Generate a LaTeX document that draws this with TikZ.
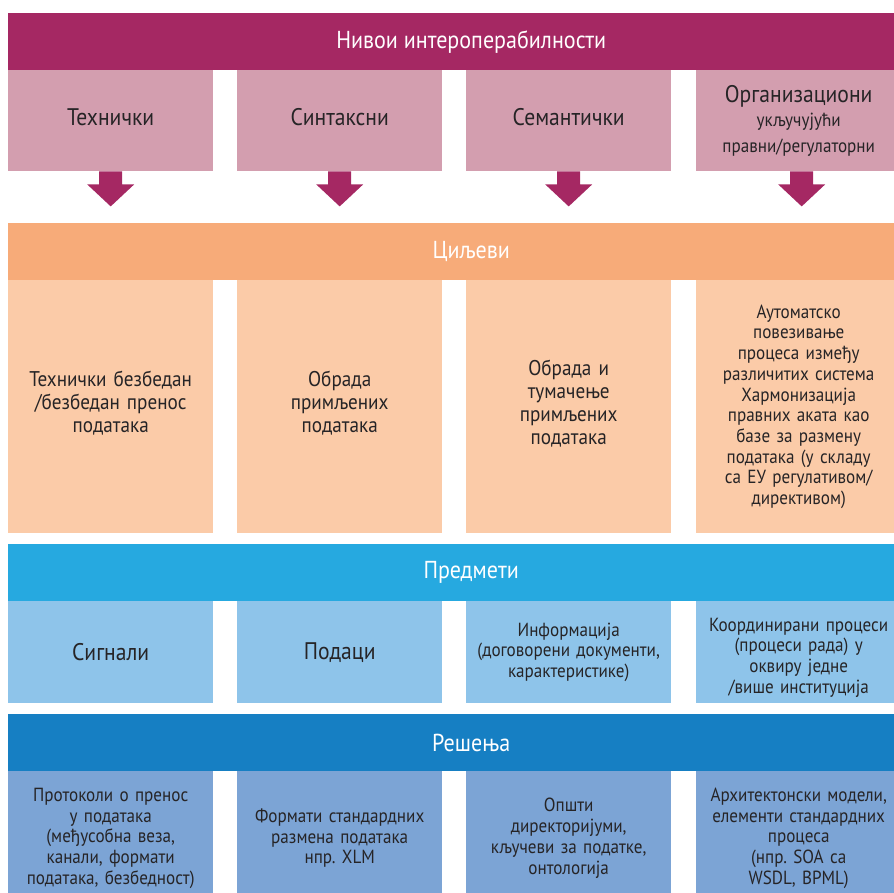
\documentclass[tikz,border=0pt]{standalone}
\usepackage{fontspec}
\setmainfont[FakeStretch=0.9]{PT Sans}
\usetikzlibrary{positioning,calc}
\definecolor{hdr}{RGB}{165,40,99}
\definecolor{lvl}{RGB}{211,158,175}
\definecolor{obnd}{RGB}{247,171,121}
\definecolor{obox}{RGB}{251,203,168}
\definecolor{bbnd}{RGB}{38,169,224}
\definecolor{bbox}{RGB}{142,196,234}
\definecolor{dbnd}{RGB}{22,127,195}
\definecolor{dbox}{RGB}{124,164,213}
\definecolor{txt}{RGB}{38,36,38}
\newcommand{\lowpad}[1]{\rule[-#1]{0pt}{0pt}}
\newcommand{\toppad}[1]{\rule{0pt}{#1}}
\tikzset{
  band/.style={anchor=north west, minimum width=926pt, inner sep=0pt, text=white,
    font=\fontsize{24.5}{26}\selectfont},
  cell/.style={anchor=north west, minimum width=205pt, inner sep=0pt, text=txt,
    align=center, text width=205pt},
  bigtxt/.style={font=\fontsize{24}{26}\selectfont},
  smalltxt/.style={font=\fontsize{19}{20.7}\selectfont},
  midtxt/.style={font=\fontsize{21.3}{23}\selectfont},
  blockarrow/.style={fill=hdr},
}
\begin{document}
\frenchspacing
\begin{tikzpicture}[x=1pt,y=1pt]
\useasboundingbox (0,0) rectangle (894,-893);
\clip (0,0) rectangle (894,-893);
% header band
\node[band, fill=hdr, minimum height=57pt] (hdr) at (8,-13) {Нивои интероперабилности};
% level boxes
\node[cell, bigtxt, fill=lvl, minimum height=101pt] (l1) at (8,-70) {Технички\lowpad{7pt}};
\node[cell, bigtxt, fill=lvl, minimum height=101pt] (l2) at (237,-70) {Синтаксни\lowpad{7pt}};
\node[cell, bigtxt, fill=lvl, minimum height=101pt] (l3) at (466,-70) {Семантички\lowpad{7pt}};
\node[cell, bigtxt, fill=lvl, minimum height=101pt] (l4) at (696,-70) {Организациони\\[-2pt]{\fontsize{19}{26}\selectfont укључујући\\правни/регулаторни}};
% arrows
\foreach \n/\dx in {l1/0,l2/0,l3/0,l4/3}{
  \fill[blockarrow] ($(\n.south)+(\dx,0)$) ++(-11.5,0) -- ++(0,-13) -- ++(-12,0) -- ++(23.5,-22) -- ++(23.5,22) -- ++(-12,0) -- ++(0,13) -- cycle;
}
% goals
\node[band, fill=obnd, minimum height=57pt] (goals) at (8,-223) {Циљеви};
\node[cell, midtxt, fill=obox, minimum height=253pt] (g1) at (8,-280) {Технички безбедан\\/безбедан пренос\\података\lowpad{9pt}};
\node[cell, midtxt, fill=obox, minimum height=253pt] (g2) at (237,-280) {Обрада\\примљених\\података\lowpad{9pt}};
\node[cell, midtxt, fill=obox, minimum height=253pt] (g3) at (466,-280) {Обрада и\\тумачење\\примљених\\података\lowpad{9pt}};
\node[cell, smalltxt, fill=obox, minimum height=253pt] (g4) at (696,-280) {Аутоматско\\повезивање\\процеса између\\различитих система\\Хармонизација\\правних аката као\\базе за размену\\података (у складу\\са ЕУ регулативом/\\директивом)};
% subjects
\node[band, fill=bbnd, minimum height=57pt] (subj) at (8,-544) {Предмети};
\node[cell, bigtxt, fill=bbox, minimum height=102pt] (s1) at (8,-601) {Сигнали};
\node[cell, bigtxt, fill=bbox, minimum height=102pt] (s2) at (237,-601) {Подаци};
\node[cell, smalltxt, fill=bbox, minimum height=102pt] (s3) at (466,-601) {Информација\\(договорени документи,\\карактеристике)};
\node[cell, smalltxt, fill=bbox, minimum height=102pt] (s4) at (696,-601) {\toppad{24pt}Координирани процеси\\(процеси рада) у\\оквиру једне\\/више институција};
% solutions
\node[band, fill=dbnd, minimum height=57pt] (sol) at (8,-714) {Решења};
\node[cell, smalltxt, fill=dbox, minimum height=134pt] (r1) at (8,-771) {Протоколи о пренос\\у података\\(међусобна веза,\\канали, формати\\података, безбедност)};
\node[cell, smalltxt, fill=dbox, minimum height=134pt] (r2) at (237,-771) {Формати стандардних\\размена података\\нпр. XLM};
\node[cell, smalltxt, fill=dbox, minimum height=134pt] (r3) at (466,-771) {Општи\\директоријуми,\\кључеви за податке,\\онтологија};
\node[cell, smalltxt, fill=dbox, minimum height=134pt] (r4) at (696,-771) {Архитектонски модели,\\елементи стандардних\\процеса\\(нпр. SOA са\\WSDL, BPML)};
\end{tikzpicture}
\end{document}
